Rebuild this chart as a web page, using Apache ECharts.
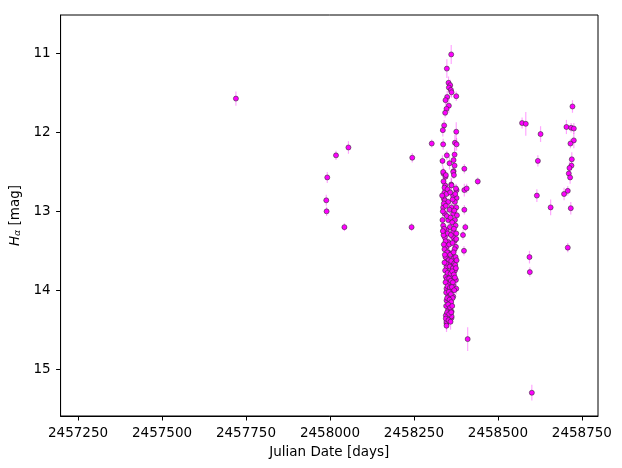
<!DOCTYPE html>
<html>
<head>
<meta charset="utf-8">
<script src="https://cdn.jsdelivr.net/npm/echarts@6/dist/echarts.min.js"></script>
<style>
html,body{margin:0;padding:0;background:#fff;}
#chart{width:622px;height:468px;}
</style>
</head>
<body>
<div id="chart"></div>
<script>
// Julian dates (days)
const jd = [
  2457720, 2457992, 2457989, 2457990, 2458018, 2458055, 2458043, 2458245, 2458243, 2458303, 2458440, 2458410,
  2458572, 2458583, 2458627, 2458619, 2458616, 2458657, 2458594, 2458595, 2458601, 2458722, 2458704, 2458718,
  2458726, 2458726, 2458716, 2458720, 2458719, 2458713, 2458711, 2458715, 2458708, 2458697, 2458717, 2458708,
  2458361, 2458348, 2458353, 2458358, 2458354, 2458360, 2458362, 2458376, 2458349, 2458344, 2458354, 2458347,
  2458343, 2458340, 2458336, 2458376, 2458337, 2458372, 2458377, 2458348, 2458371, 2458335, 2458356, 2458368,
  2458371, 2458400, 2458368, 2458338, 2458344, 2458361, 2458400, 2458407, 2458377, 2458341, 2458339, 2458377,
  2458400, 2458403, 2458396, 2458399, 2458347, 2458362, 2458348,
  2458337, 2458345, 2458367, 2458369, 2458343, 2458362, 2458375, 2458347, 2458367, 2458342, 2458352, 2458372,
  2458337, 2458362, 2458376, 2458342, 2458367, 2458335, 2458352, 2458372, 2458337, 2458357, 2458347, 2458367,
  2458342, 2458367, 2458352, 2458372, 2458347, 2458375, 2458352, 2458362, 2458349, 2458367, 2458355, 2458347,
  2458362, 2458372, 2458352, 2458345, 2458362, 2458375, 2458352, 2458367, 2458347, 2458362, 2458376, 2458352,
  2458367, 2458347, 2458357, 2458352, 2458362, 2458345, 2458347, 2458362,
  2458338, 2458341, 2458350, 2458358, 2458365, 2458373, 2458339, 2458345, 2458356, 2458370, 2458378, 2458336,
  2458348, 2458359, 2458364, 2458374, 2458340, 2458350, 2458360, 2458369, 2458376, 2458338, 2458344, 2458355,
  2458365, 2458371, 2458341, 2458349, 2458358, 2458368, 2458374, 2458344, 2458353, 2458361, 2458370, 2458346,
  2458357, 2458366, 2458373, 2458343, 2458350, 2458359, 2458364, 2458369, 2458348, 2458355, 2458360, 2458366,
  2458372, 2458344, 2458350, 2458357, 2458363, 2458370, 2458346, 2458354, 2458360, 2458365, 2458349, 2458356,
  2458361, 2458346, 2458352, 2458358, 2458364, 2458349, 2458355, 2458345, 2458353, 2458359, 2458347, 2458361,
  2458375, 2458377, 2458376, 2458334, 2458336, 2458339, 2458342, 2458341
];
// H-alpha magnitudes
const mag = [
  11.57, 12.57, 12.86, 13.00, 12.29, 12.19, 13.20, 12.32, 13.20, 12.14, 12.62, 14.62,
  11.88, 11.89, 12.02, 12.36, 12.80, 12.95, 13.58, 13.77, 15.30, 11.67, 11.93, 11.94,
  11.95, 12.10, 12.14, 12.34, 12.42, 12.45, 12.52, 12.57, 12.74, 12.78, 12.96, 13.46,
  11.01, 11.19, 11.37, 11.40, 11.43, 11.46, 11.49, 11.54, 11.55, 11.59, 11.66, 11.70,
  11.75, 11.91, 11.97, 11.99, 12.15, 12.13, 12.15, 12.29, 12.28, 12.36, 12.39, 12.35,
  12.42, 12.46, 12.49, 12.52, 12.56, 12.66, 12.73, 12.71, 12.73, 12.76, 12.84, 12.83,
  12.98, 13.20, 13.30, 13.50, 14.42, 14.35, 14.30,
  12.50, 12.54, 12.50, 12.54, 12.67, 12.67, 12.71, 12.78, 12.80, 12.86, 12.88, 12.88,
  12.95, 12.95, 12.95, 13.03, 13.03, 13.11, 13.11, 13.11, 13.18, 13.20, 13.24, 13.26,
  13.33, 13.33, 13.39, 13.37, 13.45, 13.45, 13.52, 13.54, 13.60, 13.60, 13.66, 13.70,
  13.70, 13.75, 13.77, 13.83, 13.83, 13.87, 13.92, 13.94, 13.98, 14.00, 13.98, 14.06,
  14.08, 14.13, 14.17, 14.25, 14.27, 14.32, 14.40, 14.33,
  12.62, 12.70, 12.72, 12.76, 12.85, 12.78, 12.90, 12.93, 12.98, 12.99, 13.05, 13.00,
  13.06, 13.08, 13.14, 13.18, 13.22, 13.28, 13.30, 13.22, 13.28, 13.30, 13.38, 13.42,
  13.40, 13.48, 13.48, 13.52, 13.55, 13.52, 13.58, 13.58, 13.62, 13.63, 13.66, 13.66,
  13.70, 13.72, 13.68, 13.75, 13.78, 13.79, 13.76, 13.80, 13.86, 13.85, 13.88, 13.90,
  13.84, 13.90, 13.95, 13.97, 13.96, 14.00, 14.03, 14.02, 14.05, 14.10, 14.10, 14.12,
  14.15, 14.20, 14.18, 14.22, 14.20, 14.28, 14.30, 14.36, 14.38, 14.40, 14.45, 14.28,
  13.72, 13.62, 13.35, 12.80, 13.25, 13.42, 13.55, 13.65
];
// magnitude uncertainties
const err = [
  0.09, 0.07, 0.07, 0.06, 0.06, 0.08, 0.05, 0.06, 0.05, 0.05, 0.05, 0.15,
  0.07, 0.15, 0.10, 0.07, 0.08, 0.10, 0.08, 0.06, 0.10, 0.08, 0.09, 0.06,
  0.07, 0.10, 0.06, 0.09, 0.06, 0.08, 0.07, 0.08, 0.06, 0.08, 0.08, 0.06,
  0.12, 0.12, 0.08, 0.07, 0.06, 0.09, 0.07, 0.06, 0.08, 0.07, 0.09, 0.08,
  0.06, 0.07, 0.08, 0.12, 0.07, 0.10, 0.08, 0.06, 0.09, 0.07, 0.08, 0.06,
  0.07, 0.06, 0.08, 0.07, 0.06, 0.09, 0.08, 0.06, 0.07, 0.06, 0.08, 0.07,
  0.06, 0.05, 0.06, 0.06, 0.08, 0.07, 0.06,
  0.07, 0.06, 0.08, 0.05, 0.07, 0.09, 0.06, 0.08, 0.07, 0.06, 0.05, 0.08,
  0.07, 0.06, 0.09, 0.05, 0.07, 0.08, 0.06, 0.07, 0.05, 0.08, 0.06, 0.07,
  0.09, 0.06, 0.05, 0.07, 0.08, 0.06, 0.07, 0.05, 0.08, 0.06, 0.07, 0.09,
  0.06, 0.07, 0.05, 0.08, 0.06, 0.07, 0.09, 0.05, 0.06, 0.08, 0.07, 0.06,
  0.05, 0.07, 0.08, 0.06, 0.07, 0.09, 0.08, 0.06,
  0.06, 0.08, 0.05, 0.07, 0.06, 0.09, 0.07, 0.05, 0.08, 0.06, 0.07, 0.05,
  0.08, 0.06, 0.07, 0.09, 0.05, 0.06, 0.08, 0.07, 0.06, 0.05, 0.07, 0.08,
  0.06, 0.09, 0.07, 0.05, 0.06, 0.08, 0.07, 0.06, 0.05, 0.07, 0.08, 0.06,
  0.09, 0.05, 0.07, 0.06, 0.08, 0.07, 0.05, 0.06, 0.08, 0.07, 0.06, 0.09,
  0.05, 0.07, 0.06, 0.08, 0.07, 0.05, 0.06, 0.09, 0.07, 0.06, 0.08, 0.05,
  0.07, 0.06, 0.08, 0.07, 0.05, 0.09, 0.06, 0.08, 0.07, 0.10, 0.08, 0.06,
  0.07, 0.06, 0.08, 0.05, 0.07, 0.06, 0.08, 0.07
];
// tick labels
const xTicks = [2457250, 2457500, 2457750, 2458000, 2458250, 2458500, 2458750];
const yTicks = [11, 12, 13, 14, 15];
const xRange = [2457198, 2458798];
const yRange = [10.51, 15.595];

const points = jd.map((x, i) => [x, mag[i], err[i]]);
const FONT = 'DejaVu Sans';

const chart = echarts.init(document.getElementById('chart'), null, {renderer: 'canvas'});
chart.setOption({
  animation: false,
  backgroundColor: '#fff',
  grid: {left: 58, right: 24, top: 15, bottom: 52, show: true, borderColor: '#000', borderWidth: 1, backgroundColor: 'transparent'},
  xAxis: {
    type: 'value', min: xRange[0], max: xRange[1],
    splitLine: {show: false},
    axisLine: {show: true, onZero: false, lineStyle: {color: '#000', width: 1}},
    axisTick: {show: true, length: 4.5, lineStyle: {color: '#000'}, customValues: xTicks},
    axisLabel: {customValues: xTicks, color: '#000', fontFamily: FONT, fontSize: 13.5, margin: 10, formatter: v => String(v)},
    name: 'Julian Date [days]', nameLocation: 'middle', nameGap: 29,
    nameTextStyle: {color: '#000', fontFamily: FONT, fontSize: 13.5}
  },
  yAxis: {
    type: 'value', inverse: true, min: yRange[0], max: yRange[1],
    splitLine: {show: false},
    axisLine: {show: true, onZero: false, lineStyle: {color: '#000', width: 1}},
    axisTick: {show: true, length: 4.5, lineStyle: {color: '#000'}, customValues: yTicks},
    axisLabel: {customValues: yTicks, color: '#000', fontFamily: FONT, fontSize: 13.5, margin: 10},
    name: '{i|H}{s|α} [mag]', nameLocation: 'middle', nameGap: 35, nameRotate: 90,
    nameTextStyle: {color: '#000', fontFamily: FONT, fontSize: 13.5,
      rich: {
        i: {fontFamily: FONT, fontSize: 13.5, fontStyle: 'italic', color: '#000'},
        s: {fontFamily: FONT, fontSize: 9.5, fontStyle: 'italic', color: '#000', padding: [5, 0, 0, 0]}
      }}
  },
  series: [
    {
      type: 'custom',
      data: points,
      encode: {x: 0, y: 1},
      z: 1,
      renderItem: function (params, api) {
        const x = api.value(0), y = api.value(1), e = api.value(2);
        const p1 = api.coord([x, y - e]);
        const p2 = api.coord([x, y + e]);
        return {type: 'line', shape: {x1: p1[0], y1: p1[1], x2: p2[0], y2: p2[1]},
          style: {stroke: 'rgba(255,0,255,0.35)', lineWidth: 1.2}};
      }
    },
    {
      type: 'scatter',
      data: points,
      encode: {x: 0, y: 1},
      z: 2,
      symbol: 'circle',
      symbolSize: 5,
      itemStyle: {color: '#ff00ff', borderColor: '#333', borderWidth: 0.6, opacity: 1},
      emphasis: {disabled: true}
    }
  ]
});
</script>
</body>
</html>
